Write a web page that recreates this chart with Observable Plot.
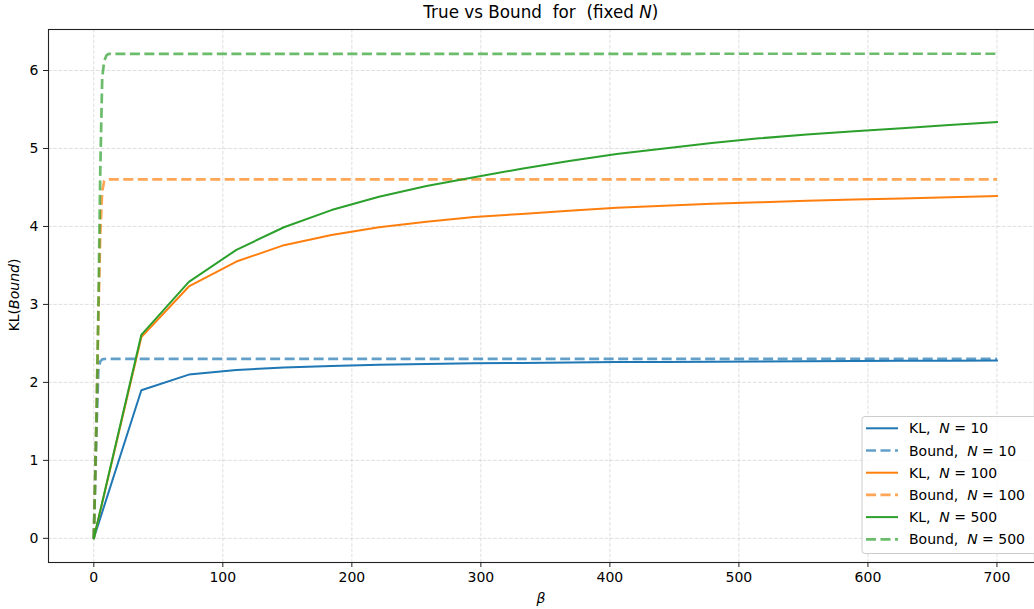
<!DOCTYPE html>
<html>
<head>
<meta charset="utf-8">
<script src="https://cdn.jsdelivr.net/npm/d3@7"></script>
<script src="https://cdn.jsdelivr.net/npm/@observablehq/plot@0.6"></script>
<style>
  html, body { margin: 0; padding: 0; background: white; overflow: hidden; }
  #chart svg { font-family: "DejaVu Sans", sans-serif; }
</style>
</head>
<body>
<div id="chart"></div>
<script>
// ---- data ----
const betaKL = [0, 36.84, 73.68, 110.53, 147.37, 184.21, 221.05, 257.89, 294.74, 331.58,
                368.42, 405.26, 442.11, 478.95, 515.79, 552.63, 589.47, 626.32, 663.16, 700];
const kl10  = [0, 1.90, 2.10, 2.16, 2.19, 2.21, 2.225, 2.235, 2.245, 2.25,
               2.255, 2.26, 2.263, 2.266, 2.268, 2.27, 2.273, 2.276, 2.278, 2.28];
const kl100 = [0, 2.58, 3.23, 3.55, 3.76, 3.89, 3.99, 4.06, 4.12, 4.16,
               4.20, 4.24, 4.265, 4.29, 4.31, 4.33, 4.345, 4.36, 4.375, 4.39];
const kl500 = [0, 2.61, 3.29, 3.70, 3.99, 4.21, 4.38, 4.52, 4.63, 4.74,
               4.84, 4.93, 5.00, 5.07, 5.13, 5.18, 5.22, 5.26, 5.30, 5.34];

const betaBound = [0, 2, 3.5, 5, 6.5, 8, 10, 12, 700];
const bound10  = [0, 1.35, 2.15, 2.27, 2.295, 2.30, 2.302, 2.302, 2.302];
const bound100 = [0, 1.5, 2.8, 3.9, 4.45, 4.58, 4.60, 4.605, 4.605];
const bound500 = [0, 1.5, 2.9, 4.7, 5.9, 6.12, 6.2, 6.214, 6.215];

const xTicks = [0, 100, 200, 300, 400, 500, 600, 700];
const yTicks = [0, 1, 2, 3, 4, 5, 6];

const seriesNames = ["KL10", "Bound10", "KL100", "Bound100", "KL500", "Bound500"];
const legendN = ["10", "10", "100", "100", "500", "500"];
const legendKind = ["KL", "Bound", "KL", "Bound", "KL", "Bound"];
const colors = ["#1f77b4", "#1f77b4", "#ff7f0e", "#ff7f0e", "#2ca02c", "#2ca02c"];
const dashed = [false, true, false, true, false, true];

const seriesData = [
  [betaKL, kl10], [betaBound, bound10],
  [betaKL, kl100], [betaBound, bound100],
  [betaKL, kl500], [betaBound, bound500]
];
const tables = seriesData.map(([xs, ys], i) => xs.map((b, j) => ({beta: b, value: ys[j], series: seriesNames[i]})));

const W = 1034, H = 609;

const lineMarks = tables.map((t, i) => Plot.line(t, {
  x: "beta", y: "value",
  stroke: colors[i],
  strokeWidth: dashed[i] ? 2.7 : 2,
  strokeOpacity: dashed[i] ? 0.7 : 1,
  strokeDasharray: dashed[i] ? "10,4.5" : null,
  strokeLinecap: dashed[i] ? "butt" : "square",
  strokeLinejoin: "round"
}));

const plot = Plot.plot({
  width: W,
  height: H,
  marginTop: 29,
  marginBottom: 47,
  marginLeft: 48,
  marginRight: 0,
  style: {fontFamily: "DejaVu Sans", fontSize: "14px", color: "black", background: "white"},
  x: {domain: [-35, 735], range: [48.15, 1041.6]},
  y: {domain: [-0.31, 6.526]},
  marks: [
    Plot.gridX(xTicks, {stroke: "#b0b0b0", strokeOpacity: 0.45, strokeDasharray: "3.7,1.6", strokeWidth: 0.9}),
    Plot.gridY(yTicks, {stroke: "#b0b0b0", strokeOpacity: 0.45, strokeDasharray: "3.7,1.6", strokeWidth: 0.9}),
    ...lineMarks,
    Plot.frame({stroke: "#222", strokeWidth: 1.1}),
    Plot.axisX(xTicks, {tickSize: 5, tickPadding: 5, fontSize: 14, label: null, tickFormat: d => String(d), stroke: "#222"}),
    Plot.axisY(yTicks, {tickSize: 5, tickPadding: 5, fontSize: 14, label: null, tickFormat: d => String(d), stroke: "#222"})
  ]
});

document.getElementById("chart").appendChild(plot);

const svg = d3.select(plot);
const cx = (48.15 + 1041.6) / 2;

// title
const title = svg.append("text")
  .attr("x", cx - 4).attr("y", 18)
  .attr("text-anchor", "middle")
  .attr("font-size", 16.8)
  .attr("fill", "black")
  .style("white-space", "pre");
title.append("tspan").text("True vs Bound  for  (fixed ");
title.append("tspan").attr("font-style", "italic").text("N");
title.append("tspan").text(")");

// x label
svg.append("text")
  .attr("x", cx - 4).attr("y", 603)
  .attr("text-anchor", "middle")
  .attr("font-size", 14)
  .attr("font-style", "italic")
  .text("β");

// y label
const yl = svg.append("text")
  .attr("transform", "translate(19,295) rotate(-90)")
  .attr("text-anchor", "middle")
  .attr("font-size", 14)
  .style("white-space", "pre");
yl.append("tspan").text("KL(");
yl.append("tspan").attr("font-style", "italic").text("Bound");
yl.append("tspan").text(")");

// legend
const lg = svg.append("g").attr("text-anchor", "start");
lg.append("rect")
  .attr("x", 862).attr("y", 416.5).attr("width", 176).attr("height", 137)
  .attr("rx", 3)
  .attr("fill", "white").attr("fill-opacity", 0.8)
  .attr("stroke", "#cccccc").attr("stroke-width", 1);
seriesNames.forEach((s, i) => {
  const yy = 428.3 + i * 22.2;
  lg.append("line")
    .attr("x1", 866).attr("x2", 898).attr("y1", yy).attr("y2", yy)
    .attr("stroke", colors[i])
    .attr("stroke-width", dashed[i] ? 2.7 : 2)
    .attr("stroke-opacity", dashed[i] ? 0.7 : 1)
    .attr("stroke-dasharray", dashed[i] ? "10,4.5" : null);
  const t = lg.append("text")
    .attr("x", 909).attr("y", yy + 5)
    .attr("text-anchor", "start")
    .attr("font-size", 14)
    .style("white-space", "pre");
  t.append("tspan").text(legendKind[i] + ",  ");
  t.append("tspan").attr("font-style", "italic").text("N");
  t.append("tspan").text(" = " + legendN[i]);
});
</script>
</body>
</html>
